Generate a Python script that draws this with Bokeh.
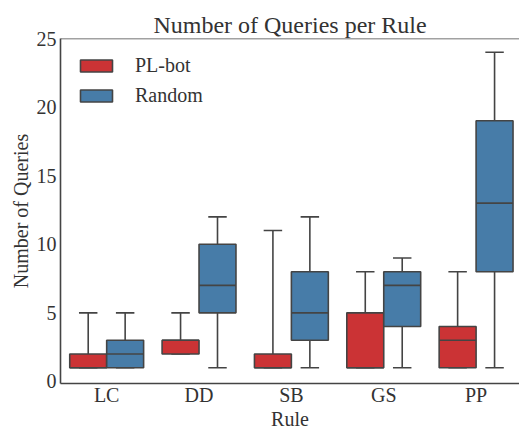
from bokeh.plotting import figure
from bokeh.models import ColumnDataSource, Range1d, FixedTicker, Legend, LegendItem, Span
from bokeh.transform import dodge
from bokeh.embed import file_html
from bokeh.resources import INLINE

rules = ["LC", "DD", "SB", "GS", "PP"]

# PL-bot box statistics
pl_min = [1, 2, 1, 1, 1]
pl_q1 = [1, 2, 1, 1, 1]
pl_med = [1, 3, 1, 1, 3]
pl_q3 = [2, 3, 2, 5, 4]
pl_max = [5, 5, 11, 8, 8]

# Random box statistics
rd_min = [1, 1, 1, 1, 1]
rd_q1 = [1, 5, 3, 4, 8]
rd_med = [2, 7, 5, 7, 13]
rd_q3 = [3, 10, 8, 8, 19]
rd_max = [5, 12, 12, 9, 24]

y_ticks = [0, 5, 10, 15, 20, 25]

series = [
    ("PL-bot", "#cb3335", -0.2, pl_min, pl_q1, pl_med, pl_q3, pl_max),
    ("Random", "#477ca8", 0.2, rd_min, rd_q1, rd_med, rd_q3, rd_max),
]

FONT = "Liberation Serif"
EDGE = "#444444"
TXT = "#333333"
LW = 1.6

idx = list(range(len(rules)))

p = figure(width=519, height=433, x_range=Range1d(-0.5, 4.47),
           y_range=Range1d(-0.15, 25), output_backend="svg", toolbar_location=None,
           min_border_left=60, min_border_right=0, min_border_top=38, min_border_bottom=50)

p.title.text = "Number of Queries per Rule"
p.title.text_font = FONT
p.title.text_font_size = "24px"
p.title.text_font_style = "normal"
p.title.align = "center"
p.title.text_color = TXT
p.title.standoff = 2

items = []
for name, color, off, mn, q1, md, q3, mx in series:
    src = ColumnDataSource(dict(i=idx, mn=mn, q1=q1, md=md, q3=q3, mx=mx))
    xc = dodge("i", off)
    # whiskers
    p.segment(x0=xc, y0="q3", x1=xc, y1="mx", source=src, line_color=EDGE, line_width=LW)
    p.segment(x0=xc, y0="q1", x1=xc, y1="mn", source=src, line_color=EDGE, line_width=LW)
    # caps
    for col in ("mx", "mn"):
        p.segment(x0=dodge("i", off - 0.1), y0=col, x1=dodge("i", off + 0.1), y1=col,
                  source=src, line_color=EDGE, line_width=LW)
    # box
    r = p.vbar(x=xc, bottom="q1", top="q3", width=0.4, source=src,
               fill_color=color, line_color=EDGE, line_width=LW)
    # median
    p.segment(x0=dodge("i", off - 0.2), y0="md", x1=dodge("i", off + 0.2), y1="md",
              source=src, line_color=EDGE, line_width=LW)
    items.append(LegendItem(label=name, renderers=[r]))

legend = Legend(items=items, location="top_left", glyph_width=40, glyph_height=15,
                label_text_font=FONT, label_text_font_size="20px", label_text_color=TXT,
                label_standoff=19, spacing=7, background_fill_alpha=0, border_line_color=None,
                margin=16, padding=0)
p.add_layout(legend)

p.xaxis.ticker = FixedTicker(ticks=idx)
p.xaxis.major_label_overrides = {i: r for i, r in zip(idx, rules)}
p.yaxis.ticker = FixedTicker(ticks=y_ticks)
for ax in (p.xaxis, p.yaxis):
    ax.minor_tick_line_color = None
    ax.major_tick_in = 0
    ax.major_tick_out = 0
    ax.axis_line_color = EDGE
    ax.axis_line_width = LW
    ax.major_label_text_font = FONT
    ax.major_label_text_font_size = "20px"
    ax.major_label_text_color = TXT
    ax.axis_label_text_font = FONT
    ax.axis_label_text_font_size = "20px"
    ax.axis_label_text_font_style = "normal"
    ax.axis_label_text_color = TXT
p.xaxis.axis_label = "Rule"
p.yaxis.axis_label = "Number of Queries"
p.xaxis.major_label_standoff = 0
p.yaxis.major_label_standoff = 4
p.xaxis.axis_label_standoff = -1
p.yaxis.axis_label_standoff = 2

# top spine
p.add_layout(Span(location=25, dimension="width", line_color=EDGE, line_width=LW))

p.xgrid.grid_line_color = None
p.ygrid.grid_line_color = None
p.outline_line_color = None
p.background_fill_color = "white"

open("out.html", "w").write(file_html(p, INLINE))
